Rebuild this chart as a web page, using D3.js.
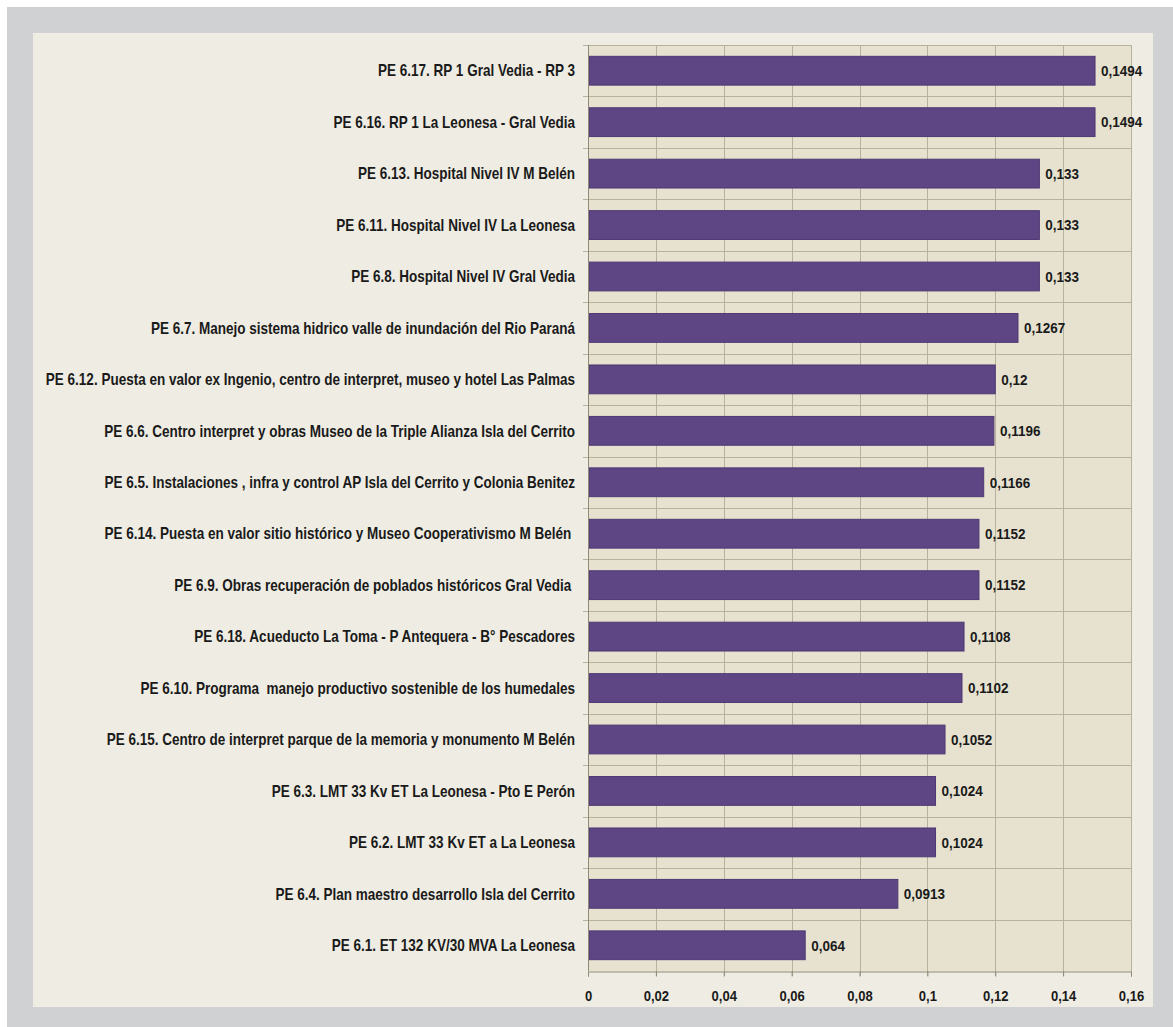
<!DOCTYPE html>
<html>
<head>
<meta charset="utf-8">
<script src="https://cdn.jsdelivr.net/npm/d3@7"></script>
<style>
  html, body { margin: 0; padding: 0; background: #ffffff; }
  svg { display: block; }
  text { font-family: "Liberation Sans", Arial, sans-serif; font-weight: bold; fill: #1a1a1a; white-space: pre; }
</style>
</head>
<body>
<script>
// Project names, top to bottom
const categories = [
  "PE 6.17. RP 1 Gral Vedia - RP 3",
  "PE 6.16. RP 1 La Leonesa - Gral Vedia",
  "PE 6.13. Hospital Nivel IV M Belén",
  "PE 6.11. Hospital Nivel IV La Leonesa",
  "PE 6.8. Hospital Nivel IV Gral Vedia",
  "PE 6.7. Manejo sistema hidrico valle de inundación del Rio Paraná",
  "PE 6.12. Puesta en valor ex Ingenio, centro de interpret, museo y hotel Las Palmas",
  "PE 6.6. Centro interpret y obras Museo de la Triple Alianza Isla del Cerrito",
  "PE 6.5. Instalaciones , infra y control AP Isla del Cerrito y Colonia Benitez",
  "PE 6.14. Puesta en valor sitio histórico y Museo Cooperativismo M Belén ",
  "PE 6.9. Obras recuperación de poblados históricos Gral Vedia ",
  "PE 6.18. Acueducto La Toma - P Antequera - B° Pescadores",
  "PE 6.10. Programa  manejo productivo sostenible de los humedales",
  "PE 6.15. Centro de interpret parque de la memoria y monumento M Belén",
  "PE 6.3. LMT 33 Kv ET La Leonesa - Pto E Perón",
  "PE 6.2. LMT 33 Kv ET a La Leonesa",
  "PE 6.4. Plan maestro desarrollo Isla del Cerrito",
  "PE 6.1. ET 132 KV/30 MVA La Leonesa"
];

// Score of each project
const values = [
  0.1494, 0.1494, 0.133, 0.133, 0.133, 0.1267, 0.12, 0.1196, 0.1166,
  0.1152, 0.1152, 0.1108, 0.1102, 0.1052, 0.1024, 0.1024, 0.0913, 0.064
];

// Axis ticks and their labels
const tickValues = [0, 0.02, 0.04, 0.06, 0.08, 0.1, 0.12, 0.14, 0.16];
const tickLabels = ["0", "0,02", "0,04", "0,06", "0,08", "0,1", "0,12", "0,14", "0,16"];

const W = 1173, H = 1027;
const plot = { left: 588, right: 1131, top: 45, bottom: 971 };

// Horizontal squeeze factors for a condensed look
const SQUEEZE_CAT = 0.845;
const SQUEEZE_VAL = 0.93;
const SQUEEZE_TICK = 0.9;

const svg = d3.select("body").append("svg")
  .attr("width", W).attr("height", H);

// Outer frame and inner panel
svg.append("rect").attr("x", 7).attr("y", 7).attr("width", W - 7).attr("height", H - 7)
  .attr("fill", "#d0d1d3");
svg.append("rect").attr("x", 33).attr("y", 33).attr("width", 1153 - 33).attr("height", 1007 - 33)
  .attr("fill", "#efede3");

const data = categories.map((c, i) => ({ name: c, value: values[i] }));

const x = d3.scaleLinear().domain([0, 0.16]).range([plot.left, plot.right]);
const y = d3.scaleBand().domain(categories).range([plot.top, plot.bottom])
  .paddingInner(0.44).paddingOuter(0.22);

// Plot area
svg.append("rect")
  .attr("x", plot.left).attr("y", plot.top)
  .attr("width", plot.right - plot.left).attr("height", plot.bottom - plot.top)
  .attr("fill", "#e6e2cf");

const step = y.step();
const bandEdges = d3.range(categories.length + 1).map(i => plot.top + i * step);

// Gridlines
const grid = svg.append("g").attr("stroke", "#b6b29c").attr("stroke-width", 1);
grid.selectAll("line.v").data(tickValues.slice(1)).join("line")
  .attr("class", "v")
  .attr("x1", d => Math.round(x(d)) + 0.5).attr("x2", d => Math.round(x(d)) + 0.5)
  .attr("y1", plot.top).attr("y2", plot.bottom + 5);
grid.selectAll("line.h").data(bandEdges.slice(0, -1)).join("line")
  .attr("class", "h")
  .attr("x1", plot.left - 5).attr("x2", plot.right)
  .attr("y1", d => Math.round(d) + 0.5).attr("y2", d => Math.round(d) + 0.5);

// Bars
svg.append("g").selectAll("rect").data(data).join("rect")
  .attr("x", plot.left + 1)
  .attr("y", d => y(d.name))
  .attr("width", d => x(d.value) - plot.left - 1)
  .attr("height", y.bandwidth())
  .attr("fill", "#5e4584")
  .attr("stroke", "#4f3973").attr("stroke-width", 1);

// Condensed text helper: anchored at (tx, ty), squeezed horizontally by k
function narrowText(sel, tx, ty, k) {
  return sel.attr("transform", (d, i) => `translate(${tx(d, i)},${ty(d, i)}) scale(${k},1)`);
}

// Value labels
svg.append("g").selectAll("text").data(data).join("text")
  .call(narrowText, d => x(d.value) + 6, d => y(d.name) + y.bandwidth() / 2, SQUEEZE_VAL)
  .attr("dy", "0.36em")
  .attr("font-size", 14.5)
  .text(d => String(d.value).replace(".", ","));

// Category axis
const yAxis = svg.append("g");
yAxis.append("line")
  .attr("x1", plot.left + 0.5).attr("x2", plot.left + 0.5)
  .attr("y1", plot.top).attr("y2", plot.bottom)
  .attr("stroke", "#8d8a78");
yAxis.selectAll("text").data(data).join("text")
  .call(narrowText, () => plot.left - 13, d => y(d.name) + y.bandwidth() / 2, SQUEEZE_CAT)
  .attr("dy", "0.36em")
  .attr("text-anchor", "end")
  .attr("font-size", 16)
  .text(d => d.name);

// Value axis
const xAxis = svg.append("g")
  .attr("transform", `translate(0,${plot.bottom + 0.5})`)
  .call(d3.axisBottom(x).tickValues(tickValues)
    .tickFormat((d, i) => tickLabels[i]).tickSize(5).tickPadding(14));
xAxis.select(".domain").attr("stroke", "#8d8a78");
xAxis.selectAll(".tick line").attr("stroke", "#8d8a78");
xAxis.selectAll(".tick text")
  .attr("font-size", 14.5)
  .attr("font-family", null)
  .attr("fill", "#1a1a1a")
  .attr("transform", `scale(${SQUEEZE_TICK},1)`);
</script>
</body>
</html>
